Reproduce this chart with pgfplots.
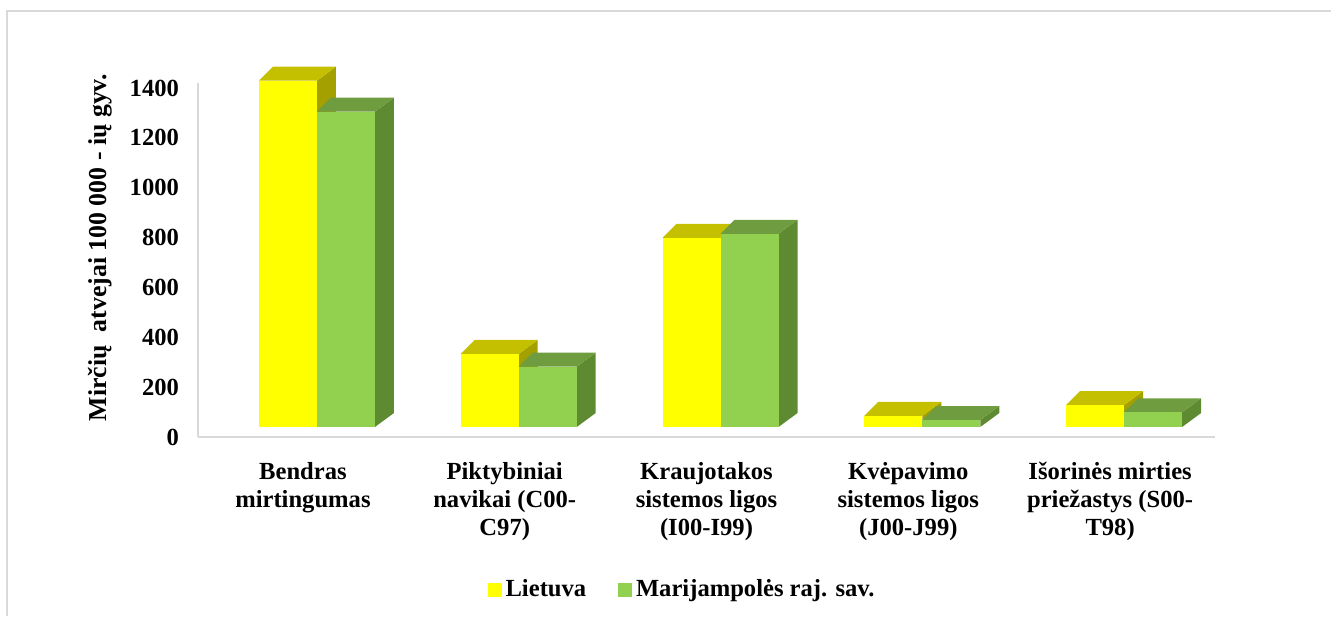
\documentclass[border=0pt]{standalone}
\usepackage{pgfplots}
\usepackage{pgfplotstable}
\usepackage{fontspec}
\setmainfont{Liberation Serif}
\pgfplotsset{compat=1.18}

\definecolor{yfront}{HTML}{FFFF00}
\definecolor{ytop}{HTML}{C4C000}
\definecolor{yside}{HTML}{A3A000}
\definecolor{gfront}{HTML}{92D050}
\definecolor{gtop}{HTML}{6E9C3E}
\definecolor{gside}{HTML}{5E8A32}
\definecolor{axisgray}{HTML}{D9D9D9}

% mirtingumas 100 000 gyv.
\pgfplotstableread{
cat lt mj
0 1389 1265
1 293 242
2 759 775
3 45 28
4 88 59
}\mortdata

\newcommand\chartfont{\bfseries\fontsize{12.3}{14}\selectfont}

% 3D column drawn as a mark at (cat, value); 1px = 0.5pt
% #1 left edge offset, #2 front, #3 top, #4 side
\newcommand\drawbox[4]{%
  \pgfmathsetmacro\bh{\val/1420*177}%
  \pgfmathsetmacro\xl{#1}%
  \pgfmathsetmacro\xr{#1+29}%
  \pgfmathsetmacro\yb{5-\bh}%
  \pgfsetfillcolor{#4}%
  \pgfpathmoveto{\pgfpoint{\xr pt}{\yb pt}}%
  \pgfpathlineto{\pgfpoint{\xr pt+9.5pt}{\yb pt+7pt}}%
  \pgfpathlineto{\pgfpoint{\xr pt+9.5pt}{12pt}}%
  \pgfpathlineto{\pgfpoint{\xr pt}{5pt}}%
  \pgfpathclose\pgfusepath{fill}%
  \pgfsetfillcolor{#3}%
  \pgfpathmoveto{\pgfpoint{\xl pt}{5pt}}%
  \pgfpathlineto{\pgfpoint{\xl pt+7pt}{12pt}}%
  \pgfpathlineto{\pgfpoint{\xr pt+9.5pt}{12pt}}%
  \pgfpathlineto{\pgfpoint{\xr pt}{5pt}}%
  \pgfpathclose\pgfusepath{fill}%
  \pgfsetfillcolor{#2}%
  \pgfpathrectanglecorners{\pgfpoint{\xl pt}{\yb pt}}{\pgfpoint{\xr pt}{5pt}}%
  \pgfusepath{fill}%
}
\pgfdeclareplotmark{boxlt}{\drawbox{-22}{yfront}{ytop}{yside}}
\pgfdeclareplotmark{boxmj}{\drawbox{7}{gfront}{gtop}{gside}}

\begin{document}
\begin{tikzpicture}
\useasboundingbox (0,0) rectangle (665.5pt,308pt);
\draw[axisgray, line width=1.3pt] (3.5pt,0) -- (3.5pt,302.5pt) -- (665.5pt,302.5pt);
\begin{axis}[
  at={(99pt,89.5pt)}, anchor=south west,
  scale only axis, width=508.5pt, height=177pt,
  xmin=-0.52, xmax=4.52, ymin=0, ymax=1420,
  clip=false,
  axis x line*=bottom, axis y line*=left,
  axis line style={draw=axisgray, line width=0.8pt},
  major tick length=0pt,
  ytick={0,200,...,1400},
  xtick={0,...,4},
  xticklabels={{Bendras\\mirtingumas},{Piktybiniai\\navikai (C00-\\C97)},{Kraujotakos\\sistemos ligos\\(I00-I99)},{Kvėpavimo\\sistemos ligos\\(J00-J99)},{Išorinės mirties\\priežastys (S00-\\T98)}},
  xticklabel style={align=center, font=\chartfont, yshift=-9pt},
  yticklabel style={font=\chartfont, xshift=-6pt},
  /pgf/number format/assume math mode=true,
  /pgf/number format/1000 sep={},
  ylabel={Mirčių~~atvejai 100~000 - ių gyv.},
  ylabel style={font=\bfseries\fontsize{12.9}{14}\selectfont, at={(axis description cs:-0.0964,0.535)}, anchor=center, rotate=0},
  legend style={at={(axis description cs:0.477,-0.432)}, anchor=center, draw=none, fill=none,
    font=\chartfont, legend columns=2, /tikz/every even column/.append style={column sep=14pt}},
]
\addlegendimage{legend image code/.code={\fill[yfront] (0pt,-3.25pt) rectangle (6.5pt,3.25pt);}}
\addlegendimage{legend image code/.code={\fill[gfront] (0pt,-3.25pt) rectangle (6.5pt,3.25pt);}}
\addplot[forget plot, only marks, mark=boxlt, scatter,
  scatter/@pre marker code/.code={}, scatter/@post marker code/.code={},
  visualization depends on={rawy \as \val}]
  table[x=cat, y=lt] {\mortdata};
\addplot[forget plot, only marks, mark=boxmj, scatter,
  scatter/@pre marker code/.code={}, scatter/@post marker code/.code={},
  visualization depends on={rawy \as \val}]
  table[x=cat, y=mj] {\mortdata};
\legend{Lietuva, Marijampolės raj. sav.}
\end{axis}
\end{tikzpicture}
\end{document}
